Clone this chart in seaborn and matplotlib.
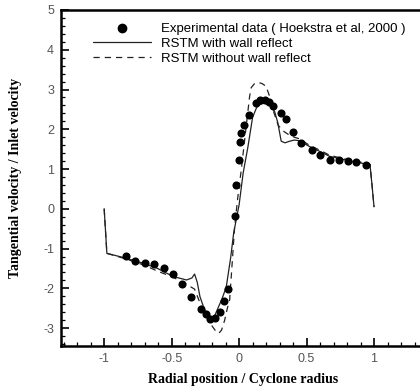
import numpy as np
import pandas as pd
import matplotlib
matplotlib.use("Agg")
import matplotlib.pyplot as plt
import seaborn as sns
from matplotlib.ticker import MultipleLocator
from matplotlib.lines import Line2D

sns.set_theme(style="white")
plt.rcParams['font.family'] = ['Liberation Sans', 'DejaVu Sans']
plt.rcParams['axes.unicode_minus'] = False

# Experimental data (Hoekstra et al, 2000)
exp_x = [-0.84, -0.774, -0.70, -0.63, -0.56, -0.49, -0.426, -0.36, -0.285, -0.248,
         -0.213, -0.179, -0.144, -0.115, -0.083, -0.033, -0.026, 0.0, 0.004, 0.016,
         0.033, 0.073, 0.122, 0.152, 0.189, 0.22, 0.25, 0.307, 0.35, 0.40, 0.46,
         0.54, 0.596, 0.67, 0.74, 0.806, 0.868, 0.94]
exp_y = [-1.18, -1.30, -1.37, -1.40, -1.48, -1.65, -1.90, -2.21, -2.53, -2.65,
         -2.78, -2.75, -2.59, -2.31, -2.02, -0.17, 0.59, 1.23, 1.67, 1.91,
         2.12, 2.37, 2.66, 2.73, 2.73, 2.68, 2.59, 2.41, 2.27, 1.92, 1.65,
         1.49, 1.36, 1.23, 1.22, 1.19, 1.17, 1.11]

# RSTM with wall reflect
wr_x = [-1.0, -0.98, -0.84, -0.70, -0.61, -0.49, -0.39, -0.35, -0.33, -0.31, -0.29,
        -0.256, -0.23, -0.206, -0.18, -0.157, -0.125, -0.095, -0.063, -0.04, 0.0,
        0.03, 0.065, 0.10, 0.13, 0.152, 0.189, 0.23, 0.263, 0.287, 0.312, 0.34,
        0.374, 0.41, 0.448, 0.52, 0.60, 0.67, 0.76, 0.843, 0.92, 0.97, 0.985, 1.0]
wr_y = [0.0, -1.12, -1.24, -1.38, -1.49, -1.70, -1.79, -1.74, -1.64, -1.85, -2.21,
        -2.54, -2.66, -2.73, -2.68, -2.50, -2.25, -1.96, -1.24, -0.60, 0.10,
        0.90, 1.55, 2.30, 2.55, 2.62, 2.66, 2.60, 2.45, 2.16, 1.70, 1.66,
        1.70, 1.73, 1.71, 1.57, 1.44, 1.32, 1.25, 1.19, 1.14, 1.11, 0.60, 0.05]

# RSTM without wall reflect
nr_x = [-1.0, -0.98, -0.84, -0.70, -0.61, -0.49, -0.40, -0.33, -0.27, -0.206, -0.17,
        -0.15, -0.13, -0.107, -0.09, -0.07, -0.033, -0.009, 0.016, 0.05, 0.078, 0.09,
        0.115, 0.14, 0.17, 0.20, 0.226, 0.25, 0.29, 0.33, 0.374, 0.41, 0.448, 0.52,
        0.60, 0.67, 0.76, 0.843, 0.92, 0.97, 0.985, 1.0]
nr_y = [0.0, -1.12, -1.26, -1.42, -1.56, -1.72, -1.88, -2.02, -2.54, -2.92, -3.09,
        -3.13, -3.05, -2.80, -2.54, -2.29, -0.45, 0.31, 0.98, 2.00, 2.83, 3.05,
        3.15, 3.18, 3.15, 3.08, 2.83, 2.50, 2.10, 1.95, 1.85, 1.80, 1.76, 1.60,
        1.47, 1.35, 1.27, 1.21, 1.16, 1.12, 0.60, 0.05]

x_ticks = [-1, -0.5, 0, 0.5, 1]
x_tick_labels = ["-1", "-0.5", "0", "0.5", "1"]
y_ticks = [-3, -2, -1, 0, 1, 2, 3, 4, 5]

fig = plt.figure(figsize=(4.2, 3.9), dpi=100)
ax = fig.add_axes([61/420, 44/390, 367/420, 336/390])

sns.lineplot(x=wr_x, y=wr_y, ax=ax, sort=False, estimator=None, color="#222222",
             linewidth=0.9)
sns.lineplot(x=nr_x, y=nr_y, ax=ax, sort=False, estimator=None, color="#222222",
             linewidth=0.9, linestyle=(0, (5, 4)))
sns.scatterplot(x=exp_x, y=exp_y, ax=ax, color="black", s=34, edgecolor="black",
                linewidth=0, zorder=5)

ax.set_xlim(-1.32, 1.4)
ax.set_ylim(-3.45, 5)
ax.set_xticks(x_ticks)
ax.set_xticklabels(x_tick_labels)
ax.set_yticks(y_ticks)
ax.xaxis.set_minor_locator(MultipleLocator(0.1))
ax.yaxis.set_minor_locator(MultipleLocator(0.2))
ax.tick_params(which="major", direction="in", length=6, width=1.2, color="black",
               labelsize=9, labelcolor="#555555", top=False, right=False,
               bottom=True, left=True, pad=5)
ax.tick_params(which="minor", direction="in", length=3, width=0.9, color="black",
               top=False, right=False, bottom=True, left=True)
for s in ["left", "bottom", "top"]:
    ax.spines[s].set_linewidth(1.8)
    ax.spines[s].set_color("black")
ax.spines["right"].set_visible(False)

ax.set_xlabel("Radial position / Cyclone radius", fontfamily="Liberation Serif",
              fontweight="bold", fontsize=10, color="black", va="center")
ax.set_ylabel("Tangential velocity / Inlet velocity", fontfamily="Liberation Serif",
              fontweight="bold", fontsize=10, color="black", va="center")
ax.xaxis.set_label_coords((243 - 61) / 367, -(379 - 346) / 336)
ax.yaxis.set_label_coords(-(61 - 16) / 367, 0.5)

handles = [
    Line2D([], [], linestyle="none", marker="o", color="black", markersize=6),
    Line2D([], [], color="#222222", linewidth=0.9),
    Line2D([], [], color="#222222", linewidth=0.9, linestyle=(0, (5, 4))),
]
labels = ["Experimental data ( Hoekstra et al, 2000 )", "RSTM with wall reflect",
          "RSTM without wall reflect"]
leg = ax.legend(handles, labels, loc="upper left",
                bbox_to_anchor=((93 - 61) / 367, (346 - 23) / 336),
                frameon=False, fontsize=9.5, handlelength=4.4, handletextpad=0.75,
                labelspacing=0.2, borderaxespad=0, borderpad=0)
for t in leg.get_texts():
    t.set_color("black")

fig.savefig("out.png", dpi=100)
